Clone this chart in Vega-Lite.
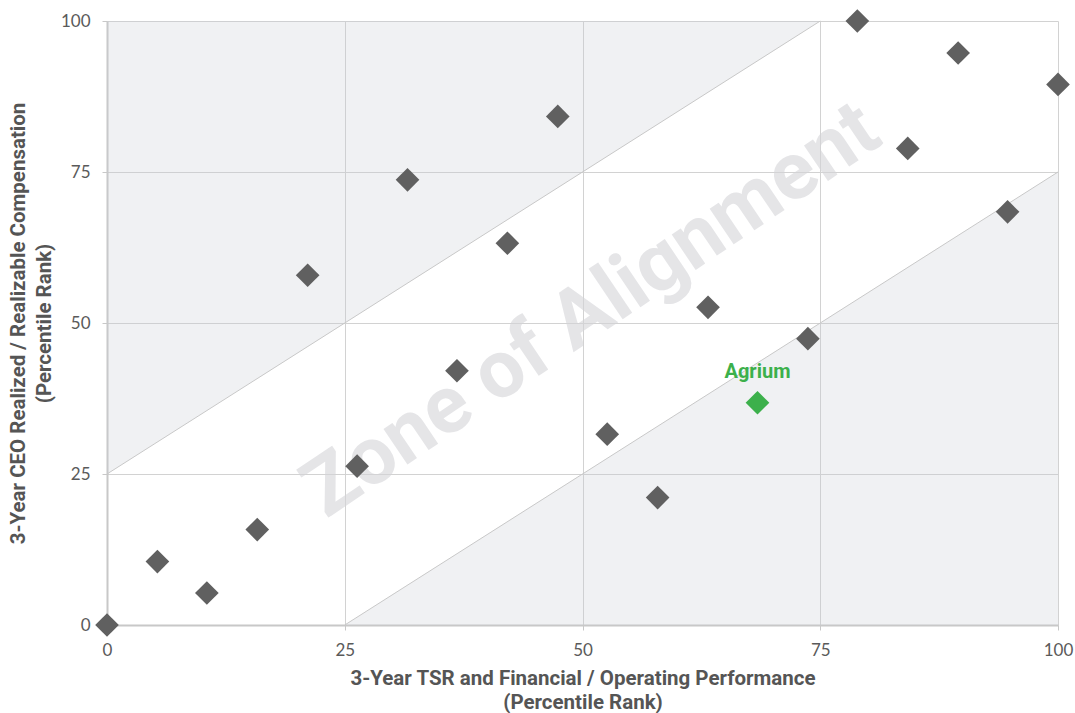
{
  "$schema": "https://vega.github.io/schema/vega-lite/v6.json",
  "width": 951,
  "height": 604,
  "autosize": {"type": "none"},
  "padding": {"left": 107, "top": 21, "right": 17, "bottom": 88},
  "background": "white",
  "config": {
    "view": {"stroke": null},
    "axis": {
      "grid": true,
      "gridColor": "#d2d2d2",
      "gridWidth": 1,
      "domainColor": "#c8c8c8",
      "domainWidth": 2,
      "tickColor": "#c8c8c8",
      "tickSize": 5,
      "tickWidth": 1,
      "labelFont": "Lato",
      "labelFontSize": 17,
      "labelColor": "#5a5a5a",
      "labelPadding": 12,
      "labelFlush": false,
      "titleFont": "Roboto",
      "titleFontSize": 20.5,
      "titleFontWeight": "bold",
      "titleColor": "#555555",
      "titleLineHeight": 24
    }
  },
  "datasets": {
    "zones": [
      {"zone": "over", "x": 0, "lo": 25, "hi": 100},
      {"zone": "over", "x": 75, "lo": 100, "hi": 100},
      {"zone": "under", "x": 25, "lo": 0, "hi": 0},
      {"zone": "under", "x": 100, "lo": 0, "hi": 75}
    ],
    "diagonals": [
      {"x": 0, "y": 25, "x2": 75, "y2": 100},
      {"x": 25, "y": 0, "x2": 100, "y2": 75}
    ],
    "companies": [
      {"company": "Peer", "tsr": 0, "pay": 0},
      {"company": "Peer", "tsr": 5.3, "pay": 10.5},
      {"company": "Peer", "tsr": 10.5, "pay": 5.3},
      {"company": "Peer", "tsr": 15.8, "pay": 15.8},
      {"company": "Peer", "tsr": 21.1, "pay": 57.9},
      {"company": "Peer", "tsr": 26.3, "pay": 26.3},
      {"company": "Peer", "tsr": 31.6, "pay": 73.7},
      {"company": "Peer", "tsr": 36.8, "pay": 42.1},
      {"company": "Peer", "tsr": 42.1, "pay": 63.2},
      {"company": "Peer", "tsr": 47.4, "pay": 84.2},
      {"company": "Peer", "tsr": 52.6, "pay": 31.6},
      {"company": "Peer", "tsr": 57.9, "pay": 21.1},
      {"company": "Peer", "tsr": 63.2, "pay": 52.6},
      {"company": "Agrium", "tsr": 68.4, "pay": 36.8},
      {"company": "Peer", "tsr": 73.7, "pay": 47.4},
      {"company": "Peer", "tsr": 78.9, "pay": 100},
      {"company": "Peer", "tsr": 84.2, "pay": 78.9},
      {"company": "Peer", "tsr": 89.5, "pay": 94.7},
      {"company": "Peer", "tsr": 94.7, "pay": 68.4},
      {"company": "Peer", "tsr": 100, "pay": 89.5}
    ],
    "watermark": [
      {"label": "Zone of Alignment", "x": 51, "y": 52}
    ]
  },
  "layer": [
    {
      "data": {"name": "zones"},
      "mark": {"type": "area", "color": "#c8ccd3", "opacity": 0.27},
      "encoding": {
        "x": {
          "field": "x",
          "type": "quantitative",
          "scale": {"domain": [0, 100], "nice": false},
          "axis": {
            "values": [0, 25, 50, 75, 100],
            "title": ["3-Year TSR and Financial / Operating Performance", "(Percentile Rank)"],
            "titleX": 475.5,
            "titleY": 53,
            "titleBaseline": "middle",
            "titleAlign": "center",
            "titleAnchor": null
          }
        },
        "y": {
          "field": "lo",
          "type": "quantitative",
          "scale": {"domain": [0, 100], "nice": false},
          "axis": {
            "values": [0, 25, 50, 75, 100],
            "title": ["3-Year CEO Realized / Realizable Compensation", "(Percentile Rank)"],
            "titleX": -89,
            "titleY": 302,
            "titleAngle": -90,
            "titleBaseline": "middle",
            "titleAlign": "center",
            "titleAnchor": null,
            "titleLineHeight": 26
          }
        },
        "y2": {"field": "hi"},
        "detail": {"field": "zone"}
      }
    },
    {
      "data": {"name": "diagonals"},
      "mark": {"type": "rule", "color": "#c8c8c8", "strokeWidth": 1},
      "encoding": {
        "x": {"field": "x", "type": "quantitative"},
        "y": {"field": "y", "type": "quantitative"},
        "x2": {"field": "x2"},
        "y2": {"field": "y2"}
      }
    },
    {
      "data": {"name": "watermark"},
      "mark": {
        "type": "text",
        "angle": -34,
        "align": "center",
        "baseline": "middle",
        "font": "Roboto",
        "fontWeight": "bold",
        "fontSize": 81,
        "color": "#d4d4d8",
        "opacity": 0.6
      },
      "encoding": {
        "x": {"field": "x", "type": "quantitative"},
        "y": {"field": "y", "type": "quantitative"},
        "text": {"field": "label"}
      }
    },
    {
      "data": {"name": "companies"},
      "mark": {"type": "point", "shape": "diamond", "filled": true, "size": 560, "opacity": 1},
      "encoding": {
        "x": {"field": "tsr", "type": "quantitative"},
        "y": {"field": "pay", "type": "quantitative"},
        "color": {
          "field": "company",
          "type": "nominal",
          "scale": {"domain": ["Peer", "Agrium"], "range": ["#606060", "#3cb04b"]},
          "legend": null
        }
      }
    },
    {
      "data": {"name": "companies"},
      "transform": [{"filter": "datum.company === 'Agrium'"}],
      "mark": {
        "type": "text",
        "dy": -31,
        "align": "center",
        "baseline": "middle",
        "font": "Roboto",
        "fontWeight": "bold",
        "fontSize": 20,
        "color": "#3cb04b"
      },
      "encoding": {
        "x": {"field": "tsr", "type": "quantitative"},
        "y": {"field": "pay", "type": "quantitative"},
        "text": {"field": "company"}
      }
    }
  ]
}
